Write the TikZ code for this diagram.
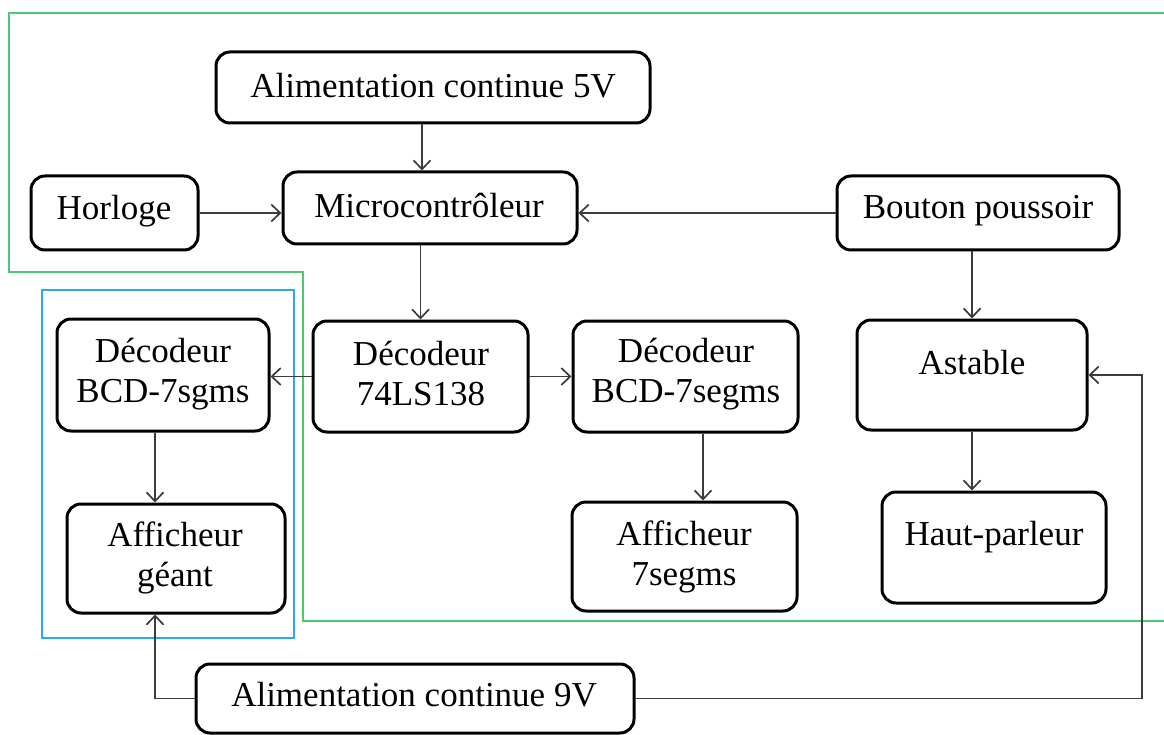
\documentclass[tikz,border=0pt]{standalone}
\usepackage{fontspec}
\setmainfont{Liberation Serif}
\usetikzlibrary{arrows.meta,calc}
\definecolor{grn}{RGB}{80,200,115}
\definecolor{blu}{RGB}{40,170,235}
\definecolor{ln}{RGB}{60,60,60}
\begin{document}
\begin{tikzpicture}[x=1pt,y=-1pt,
  box/.style={draw=black, line width=3pt, rounded corners=14pt, inner sep=0pt},
  txt/.style={font=\fontsize{35}{40}\selectfont, align=center, inner sep=0pt},
  arr/.style={draw=ln, line width=1.7pt, -{Straight Barb[length=9pt,width=17pt]}},
  frame/.style={line width=2.2pt}]
\useasboundingbox (0,0) rectangle (1164,735);
\fill[white] (0,0) rectangle (1164,735);
% frames
\draw[frame, grn] (1164,13) -- (9,13) -- (9,272) -- (303,272) -- (303,621) -- (1164,621);
\draw[frame, blu] (42,290) rectangle (294,638);
% boxes
\node[box, minimum width=434pt, minimum height=71pt] (alim5) at (433,87.5) {};
\node[box, minimum width=167pt, minimum height=74pt] (horloge) at (114.5,213) {};
\node[box, minimum width=294pt, minimum height=72pt] (micro) at (430,208) {};
\node[box, minimum width=282pt, minimum height=74pt] (bouton) at (978,213) {};
\node[box, minimum width=212pt, minimum height=112pt] (bcdL) at (163,375) {};
\node[box, minimum width=215pt, minimum height=111pt] (dec) at (420.5,376.5) {};
\node[box, minimum width=225pt, minimum height=111pt] (bcdR) at (685.5,376.5) {};
\node[box, minimum width=230pt, minimum height=110pt] (astable) at (972,375) {};
\node[box, minimum width=224pt, minimum height=111pt] (hp) at (994,547.5) {};
\node[box, minimum width=218pt, minimum height=109pt] (affG) at (176,558.5) {};
\node[box, minimum width=225pt, minimum height=109pt] (aff7) at (684.5,556.5) {};
\node[box, minimum width=438pt, minimum height=69pt] (alim9) at (415,698.5) {};
% texts
\node[txt] (t-alim5) at (433,86) {Alimentation continue 5V};
\node[txt] (t-horloge) at (114,211) {Horloge};
\node[txt] (t-micro) at (429,205) {Microcontrôleur};
\node[txt] (t-bouton) at (978,211) {Bouton poussoir};
\node[txt] (t-bcdL) at (163,374) {Décodeur\\BCD-7sgms};
\node[txt] (t-dec) at (421,374) {Décodeur\\74LS138};
\node[txt] (t-bcdR) at (686,374) {Décodeur\\BCD-7segms};
\node[txt] (t-astable) at (972,363) {Astable};
\node[txt] (t-hp) at (994,537) {Haut-parleur};
\node[txt] (t-affG) at (175,558) {Afficheur\\géant};
\node[txt] (t-aff7) at (684,557) {Afficheur\\7segms};
\node[txt] (t-alim9) at (414,695) {Alimentation continue 9V};
% helper coordinates
\coordinate (xA) at (422,0);
\coordinate (xS) at (703,0);
\coordinate (xL) at (155,0);
\coordinate (xR) at (1142,0);
% connectors
\draw[arr] (alim5.south -| xA) -- (micro.north -| xA);
\draw[arr] (horloge.east) -- (micro.west |- horloge.east);
\draw[arr] (bouton.west) -- (micro.east |- bouton.west);
\draw[arr] (micro.south -| dec.north) -- (dec.north);
\draw[arr] (dec.west) -- (bcdL.east |- dec.west);
\draw[arr] (dec.east) -- (bcdR.west |- dec.east);
\draw[arr] (bcdR.south -| xS) -- (aff7.north -| xS);
\draw[arr] (bouton.south -| astable.north) -- (astable.north);
\draw[arr] (astable.south) -- (hp.north -| astable.south);
\draw[arr] (bcdL.south -| xL) -- (affG.north -| xL);
\draw[arr] (alim9.west) -- (alim9.west -| xL) -- (affG.south -| xL);
\draw[arr] (alim9.east) -- (alim9.east -| xR) -- (xR |- astable.east) -- (astable.east);
\end{tikzpicture}
\end{document}
